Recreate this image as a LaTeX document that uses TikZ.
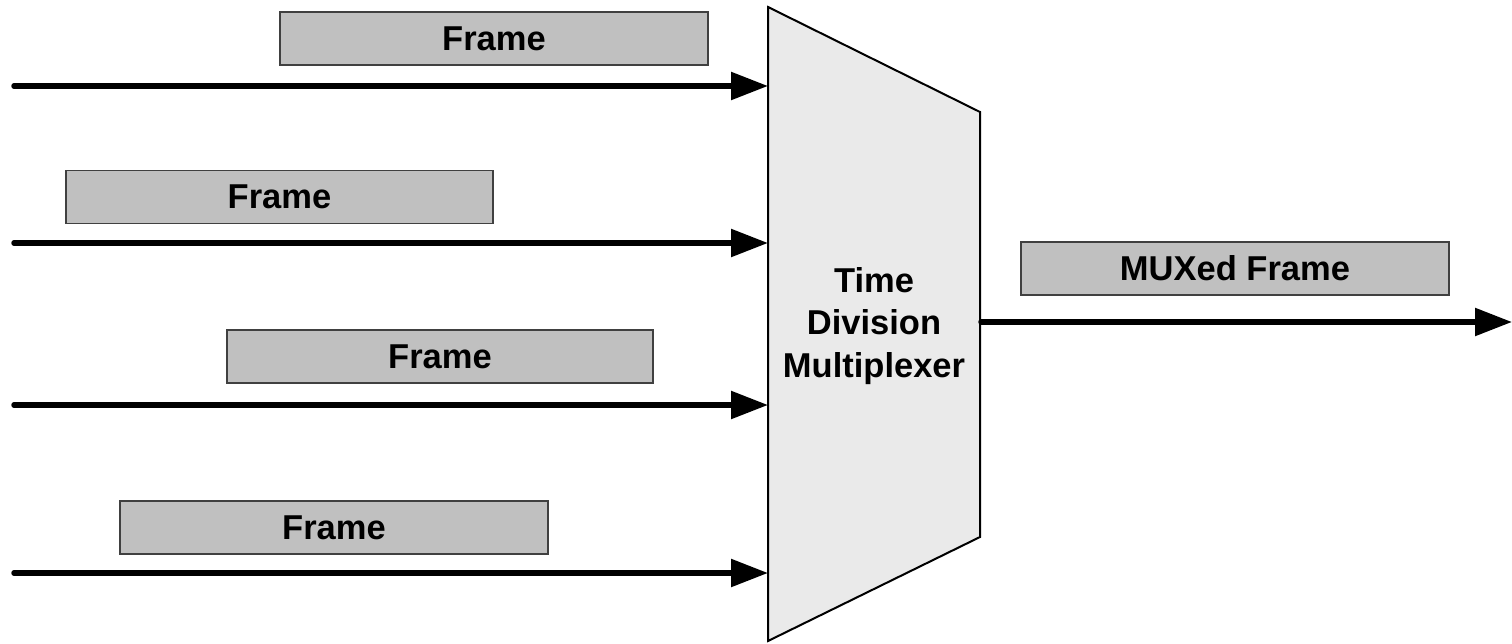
\documentclass[tikz,border=0pt]{standalone}
\usepackage{fontspec}
\setmainfont{Liberation Sans}
\usetikzlibrary{arrows.meta}
\definecolor{framegray}{HTML}{C0C0C0}
\definecolor{muxgray}{HTML}{EAEAEA}
\definecolor{edgegray}{HTML}{404040}
\tikzset{
  framebox/.style={draw=edgegray, line width=1.2pt, fill=framegray,
    minimum height=53pt, inner sep=0pt, font=\fontsize{34.5}{40}\selectfont\bfseries},
  feed/.style={line width=5.5pt, line cap=round,
    -{Triangle[length=37pt,width=27pt]}},
  muxbody/.style={draw=black, line width=2pt, fill=muxgray, line join=miter}
}
\begin{document}
\begin{tikzpicture}[x=1pt, y=-1pt]
  \useasboundingbox (0,0) rectangle (1512,644);

  % multiplexer body
  \coordinate (tl) at (768,7);
  \coordinate (tr) at (980,112);
  \coordinate (br) at (980,537);
  \coordinate (bl) at (768,641);
  \draw[muxbody] (tl) -- (tr) -- (br) -- (bl) -- cycle;
  \node[align=center, inner sep=0pt, font=\fontsize{34.5}{42.5}\selectfont\bfseries] (mux) at (874,326)
    {Time\\Division\\Multiplexer};

  % frames waiting on each input
  \node[framebox, minimum width=428pt] (f1) at (494,38.5) {Frame};
  \node[framebox, minimum width=427pt] (f2) at (279.5,197) {Frame};
  \node[framebox, minimum width=426pt] (f3) at (440,356.5) {Frame};
  \node[framebox, minimum width=428pt] (f4) at (334,527.5) {Frame};
  \node[framebox, minimum width=428pt] (fo) at (1235,268.5) {MUXed Frame};

  % input lines
  \coordinate (s1) at (14,86);  \coordinate (e1) at (768,86);
  \coordinate (s2) at (14,243); \coordinate (e2) at (768,243);
  \coordinate (s3) at (14,405); \coordinate (e3) at (768,405);
  \coordinate (s4) at (14,573); \coordinate (e4) at (768,573);
  \foreach \i in {1,...,4} \draw[feed] (s\i) -- (e\i);

  % output line
  \coordinate (os) at (981,322);
  \coordinate (oe) at (1512,322);
  \draw[feed] (os) -- (oe);
\end{tikzpicture}
\end{document}
